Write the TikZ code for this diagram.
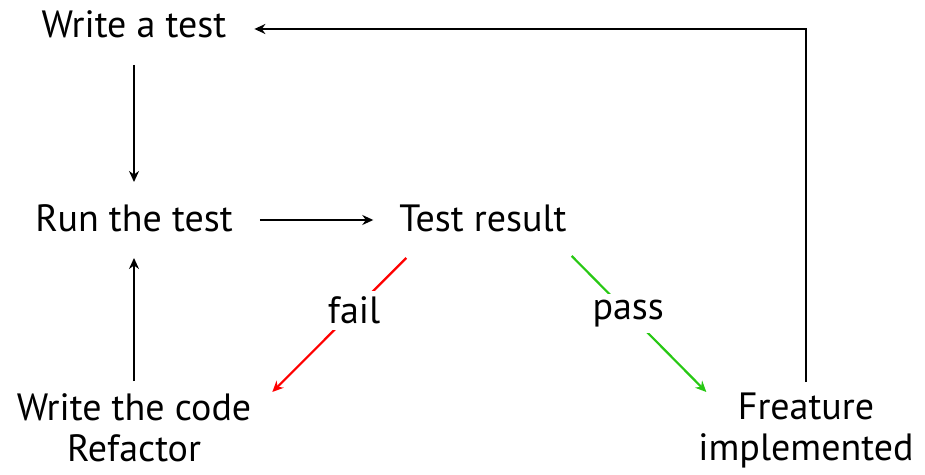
\documentclass[tikz,border=0pt]{standalone}
\usepackage{fontspec}
\setmainfont{PT Sans}
\usepackage{tikz}
\usetikzlibrary{arrows,arrows.meta}
\usetikzlibrary{positioning}
\definecolor{passgreen}{RGB}{40,200,20}
\tikzstyle{step text} =
[
	inner sep=0pt, font=\fontsize{38}{42}\selectfont
]
\tikzstyle{two lines} =
[
	inner sep=0pt, align=center, font=\fontsize{38}{41}\selectfont
]

\begin{document}
\begin{tikzpicture}[->,>={Stealth[length=11pt,width=10pt]},x=1pt,y=1pt,line width=2.2pt]
\useasboundingbox (0,0) rectangle (925,474);

\node[step text, anchor=base] (write) at (134,436) {Write a test};
\node[step text, anchor=base] (run) at (134,242) {Run the test};
\node[step text, anchor=base] (result) at (483,242) {Test result};
\node[two lines, anchor=north] (code) at (134,82) {Write the code\\Refactor};
\node[two lines, anchor=north] (feat) at (806,82) {Freature\\implemented};
%
\draw ([yshift=-27pt]write.base) -- ([yshift=50pt]run.base);
\draw ([xshift=26pt,yshift=12pt]run.base east) -- ([xshift=-25pt,yshift=12pt]result.base west);
\draw ([yshift=11pt]code.north) -- ([yshift=-26pt]run.base);

\draw[red] ([xshift=8pt,yshift=-26pt]result.base west)
	-- node[pos=0.39, fill=white, inner sep=6pt, text=black, font=\fontsize{38}{42}\selectfont]{fail}
	([xshift=20pt]code.north east);
\draw[passgreen] ([xshift=4pt,yshift=-24pt]result.base east)
	-- node[pos=0.42, fill=white, inner sep=6pt, text=black, font=\fontsize{38}{42}\selectfont]{pass}
	([xshift=9pt]feat.north west);

\draw ([yshift=10pt]feat.north) |- ([xshift=27pt,yshift=9pt]write.base east);

\end{tikzpicture}
\end{document}
